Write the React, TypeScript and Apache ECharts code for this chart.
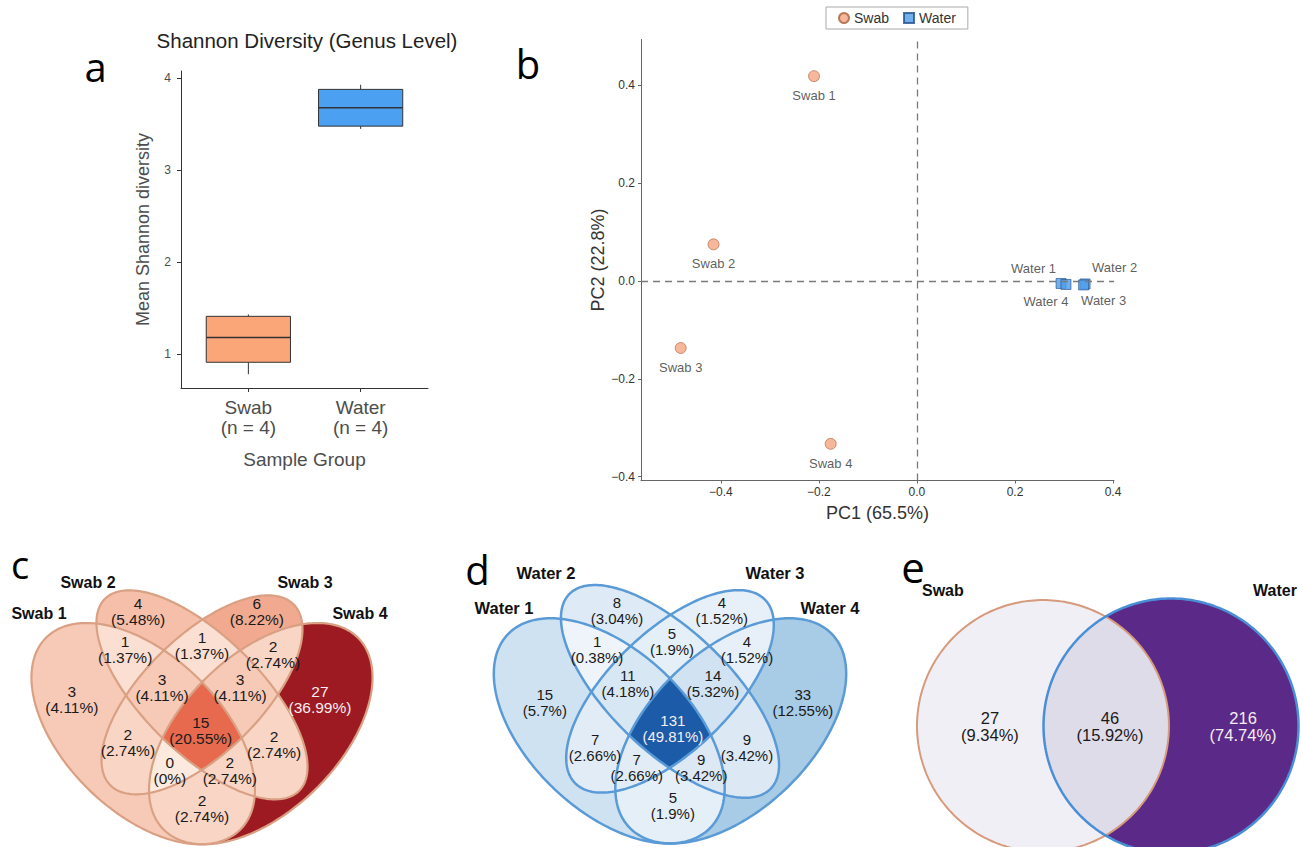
import React, { useEffect, useRef } from 'react';
import * as echarts from 'echarts';

const FONT = "'Liberation Sans', Arial, Helvetica, sans-serif";
const LETTER_FONT = "'Open Sans', 'Noto Sans', sans-serif";

// ---------- Panel a: Shannon diversity ----------
const BOX_GROUPS = ['Swab', 'Water'];
const BOX_N = [4, 4];
const BOX_MIN = [0.78, 3.45];
const BOX_Q1 = [0.91, 3.48];
const BOX_MEDIAN = [1.18, 3.68];
const BOX_Q3 = [1.41, 3.88];
const BOX_MAX = [1.43, 3.93];
const BOX_TICKS = [1, 2, 3, 4];
const BOX_COLORS = ['#FBA679', '#4BA0F2'];

// ---------- Panel b: PCA ----------
const SWAB_NAMES = ['Swab 1', 'Swab 2', 'Swab 3', 'Swab 4'];
const SWAB_PC1 = [-0.21, -0.415, -0.482, -0.176];
const SWAB_PC2 = [0.419, 0.075, -0.137, -0.333];
const WATER_NAMES = ['Water 1', 'Water 2', 'Water 3', 'Water 4'];
const WATER_PC1 = [0.294, 0.343, 0.34, 0.304];
const WATER_PC2 = [-0.005, -0.006, -0.008, -0.007];
const PC_TICKS = [-0.4, -0.2, 0, 0.2, 0.4];

// ---------- Panels c, d: 4-set Venn ----------
const VENN4_REGIONS = ['1', '2', '3', '4', '12', '23', '34', '123', '234', '1234', '13', '24', '134', '124', '14'];
const SWAB_SET_NAMES = ['Swab 1', 'Swab 2', 'Swab 3', 'Swab 4'];
const SWAB_COUNTS = [3, 4, 6, 27, 1, 1, 2, 3, 3, 15, 2, 2, 0, 2, 2];
const SWAB_PCTS = ['4.11%', '5.48%', '8.22%', '36.99%', '1.37%', '1.37%', '2.74%', '4.11%', '4.11%', '20.55%', '2.74%', '2.74%', '0%', '2.74%', '2.74%'];
const WATER_SET_NAMES = ['Water 1', 'Water 2', 'Water 3', 'Water 4'];
const WATER_COUNTS = [15, 8, 4, 33, 1, 5, 4, 11, 14, 131, 7, 9, 7, 9, 5];
const WATER_PCTS = ['5.7%', '3.04%', '1.52%', '12.55%', '0.38%', '1.9%', '1.52%', '4.18%', '5.32%', '49.81%', '2.66%', '3.42%', '2.66%', '3.42%', '1.9%'];

// ---------- Panel e: 2-set Venn ----------
const VENN2_REGIONS = ['1', '12', '2'];
const GROUP_SET_NAMES = ['Swab', 'Water'];
const GROUP_COUNTS = [27, 46, 216];
const GROUP_PCTS = ['9.34%', '15.92%', '74.74%'];

// ---------- Geometry (layout, not data) ----------
// [cx, cy, a, b, rotationDeg] in the unit space of each Venn grid
const ELLIPSES4 = [
  [0.35, 0.47, 0.35, 0.2, 135],
  [0.5, 0.57, 0.35, 0.15, 135],
  [0.5, 0.57, 0.33, 0.15, 45],
  [0.65, 0.47, 0.35, 0.2, 45],
];
const CIRCLES2 = [
  [-0.5, 0, 0.984, 0.984, 0],
  [0.5, 0, 0.996, 0.996, 0],
];
const LABEL_POS_C = [
  [0.168, 0.557], [0.337, 0.786], [0.64, 0.786], [0.801, 0.557],
  [0.304, 0.686], [0.5, 0.698], [0.681, 0.675],
  [0.398, 0.588], [0.597, 0.588], [0.497, 0.479],
  [0.311, 0.446], [0.684, 0.443], [0.418, 0.376], [0.571, 0.376], [0.5, 0.278],
];
const LABEL_POS_D = [
  [0.191, 0.543], [0.369, 0.776], [0.628, 0.776], [0.828, 0.543],
  [0.32, 0.677], [0.505, 0.697], [0.69, 0.675],
  [0.396, 0.591], [0.606, 0.591], [0.507, 0.477],
  [0.315, 0.427], [0.69, 0.427], [0.418, 0.378], [0.577, 0.378], [0.507, 0.28],
];
const LABEL_POS_E = [[-0.914, 0], [0.023, 0], [1.063, 0]];

type Pt = [number, number];

function ellipsePoints(e: number[], n = 220): Pt[] {
  const [cx, cy, a, b, rotDeg] = e;
  const th = (rotDeg * Math.PI) / 180;
  const c = Math.cos(th);
  const s = Math.sin(th);
  const pts: Pt[] = [];
  for (let k = 0; k < n; k++) {
    const t = (2 * Math.PI * k) / n;
    const x = a * Math.cos(t);
    const y = b * Math.sin(t);
    pts.push([cx + x * c - y * s, cy + x * s + y * c]);
  }
  return pts;
}

function clipConvex(subject: Pt[], clipPoly: Pt[]): Pt[] {
  let output = subject;
  for (let i = 0; i < clipPoly.length; i++) {
    const a = clipPoly[i];
    const b = clipPoly[(i + 1) % clipPoly.length];
    const input = output;
    output = [];
    if (!input.length) break;
    const inside = (p: Pt) => (b[0] - a[0]) * (p[1] - a[1]) - (b[1] - a[1]) * (p[0] - a[0]) >= 0;
    const inter = (p: Pt, q: Pt): Pt => {
      const A1 = q[1] - p[1], B1 = p[0] - q[0], C1 = A1 * p[0] + B1 * p[1];
      const A2 = b[1] - a[1], B2 = a[0] - b[0], C2 = A2 * a[0] + B2 * a[1];
      const det = A1 * B2 - A2 * B1;
      if (Math.abs(det) < 1e-12) return q;
      return [(B2 * C1 - B1 * C2) / det, (A1 * C2 - A2 * C1) / det];
    };
    for (let j = 0; j < input.length; j++) {
      const cur = input[j];
      const prev = input[(j + input.length - 1) % input.length];
      const cin = inside(cur);
      const pin = inside(prev);
      if (cin) {
        if (!pin) output.push(inter(prev, cur));
        output.push(cur);
      } else if (pin) {
        output.push(inter(prev, cur));
      }
    }
  }
  return output;
}

function regionPolygon(code: string, shapes: number[][]): Pt[] {
  const idx = code.split('').map((ch) => Number(ch) - 1);
  const outlines = shapes.map((s) => ellipsePoints(s));
  let poly = outlines[idx[0]];
  for (let k = 1; k < idx.length; k++) poly = clipConvex(poly, outlines[idx[k]]);
  return poly;
}

function textStyle(text: string, size: number, fill: string, extra: any = {}) {
  const align = extra.align || 'center';
  return {
    text,
    fill,
    fontSize: size,
    fontFamily: extra.family || FONT,
    fontWeight: extra.weight || 'normal',
    align,
    textAlign: align,
    verticalAlign: 'middle',
    textVerticalAlign: 'middle',
    lineHeight: extra.lineHeight,
  };
}

function vennSeries(
  gi: number,
  regions: string[],
  counts: number[],
  pcts: string[],
  labelPos: number[][],
  shapes: number[][],
  strokes: string[],
  widths: number[],
  fontSize: number,
  lineHeight: number,
) {
  const polys = regions.map((r) => regionPolygon(r, shapes));
  const order = regions.map((_, i) => i).sort((a, b) => regions[a].length - regions[b].length || a - b);
  const maxCount = Math.max(...counts);
  const outlinePts = shapes.map((s) => ellipsePoints(s, 260));
  return [
    {
      type: 'custom',
      xAxisIndex: gi,
      yAxisIndex: gi,
      z: 2,
      silent: true,
      clip: false,
      data: order.map((i) => [labelPos[i][0], labelPos[i][1], counts[i], i]),
      renderItem: (params: any, api: any) => {
        const i = api.value(3);
        return {
          type: 'polygon',
          shape: { points: polys[i].map((p) => api.coord(p)) },
          style: { fill: api.visual('color'), stroke: 'none' },
        };
      },
    },
    {
      type: 'custom',
      xAxisIndex: gi,
      yAxisIndex: gi,
      z: 3,
      silent: true,
      clip: false,
      data: shapes.map((s) => [s[0], s[1]]),
      renderItem: (params: any, api: any) => ({
        type: 'polygon',
        shape: { points: outlinePts[params.dataIndex].map((p) => api.coord(p)) },
        style: { fill: 'none', stroke: strokes[params.dataIndex], lineWidth: widths[params.dataIndex] },
      }),
    },
    {
      type: 'custom',
      xAxisIndex: gi,
      yAxisIndex: gi,
      z: 4,
      silent: true,
      clip: false,
      data: regions.map((_, i) => [labelPos[i][0], labelPos[i][1], counts[i]]),
      renderItem: (params: any, api: any) => {
        const i = params.dataIndex;
        const p = api.coord([api.value(0), api.value(1)]);
        const light = counts[i] / maxCount > 0.6;
        return {
          type: 'text',
          x: p[0],
          y: p[1],
          style: textStyle(`${counts[i]}\n(${pcts[i]})`, fontSize, light ? '#f6eef2' : '#1a1a1a', { lineHeight }),
        };
      },
    },
  ];
}

function pcFmt(v: number) {
  const r = Math.round(v * 10) / 10;
  return (r < 0 ? '\u2212' : '') + Math.abs(r).toFixed(1);
}

const WATER_LABEL_LAYOUT = [
  { position: 'top', align: 'right', offset: [-5, -1], distance: 2 },
  { position: 'top', align: 'left', offset: [7, -3], distance: 2 },
  { position: 'bottom', align: 'center', offset: [20, 0], distance: 4 },
  { position: 'bottom', align: 'center', offset: [-20, 0], distance: 5 },
];

// grid frames for the Venn panels (kept inside the 1303x847 canvas)
const VENN_FRAMES = [
  { left: 6, top: 585, width: 392, height: 262, xMin: 0, xMax: 1, yMin: 0.178, yMax: 0.853 },
  { left: 467.5, top: 580, width: 405, height: 267, xMin: 0, xMax: 1, yMin: 0.176, yMax: 0.852 },
  { left: 890, top: 590, width: 413, height: 257, xMin: -1.695, xMax: 1.531, yMin: -0.945, yMax: 1.0625 },
];

function gtext(x: number, y: number, text: string, size: number, extra: any = {}) {
  return {
    type: 'text',
    x,
    y,
    silent: true,
    style: textStyle(text, size, extra.fill || '#111', extra),
  };
}

function buildOption(): any {
  const series: any[] = [
    {
      type: 'custom',
      xAxisIndex: 0,
      yAxisIndex: 0,
      silent: true,
      data: BOX_GROUPS.map((_, i) => [i + 1, BOX_MIN[i], BOX_Q1[i], BOX_MEDIAN[i], BOX_Q3[i], BOX_MAX[i]]),
      encode: { x: 0, y: [1, 2, 3, 4, 5] },
      renderItem: (params: any, api: any) => {
        const x = api.value(0);
        const hw = 0.375;
        const pq1 = api.coord([x - hw, api.value(2)]);
        const pq3 = api.coord([x + hw, api.value(4)]);
        const pmin = api.coord([x, api.value(1)]);
        const ymed = api.coord([x, api.value(3)])[1];
        const ymax = api.coord([x, api.value(5)])[1];
        const xc = pmin[0];
        const st = { stroke: '#333', lineWidth: 1 };
        return {
          type: 'group',
          children: [
            { type: 'line', shape: { x1: xc, y1: ymax, x2: xc, y2: pq3[1] }, style: st },
            { type: 'line', shape: { x1: xc, y1: pq1[1], x2: xc, y2: pmin[1] }, style: st },
            {
              type: 'rect',
              shape: { x: pq1[0], y: pq3[1], width: pq3[0] - pq1[0], height: pq1[1] - pq3[1] },
              style: { fill: BOX_COLORS[params.dataIndex], stroke: '#333', lineWidth: 1 },
            },
            { type: 'line', shape: { x1: pq1[0], y1: ymed, x2: pq3[0], y2: ymed }, style: { stroke: '#333', lineWidth: 1.4 } },
          ],
        };
      },
    },
    {
      type: 'scatter',
      name: 'Swab',
      xAxisIndex: 1,
      yAxisIndex: 1,
      symbol: 'circle',
      symbolSize: 11,
      z: 3,
      itemStyle: { color: '#F4A582', borderColor: '#a8633f', borderWidth: 0.8 },
      label: { show: true, position: 'bottom', distance: 7, formatter: '{b}', fontSize: 13, color: '#333', fontFamily: FONT },
      data: SWAB_NAMES.map((n, i) => ({ name: n, value: [SWAB_PC1[i], SWAB_PC2[i]] })),
      markLine: {
        silent: true,
        symbol: ['none', 'none'],
        label: { show: false },
        lineStyle: { type: [7, 5], color: '#7a7a7a', width: 1.3 },
        data: [{ xAxis: 0 }, { yAxis: 0 }],
      },
    },
    {
      type: 'scatter',
      name: 'Water',
      xAxisIndex: 1,
      yAxisIndex: 1,
      symbol: 'rect',
      symbolSize: 10,
      z: 4,
      itemStyle: { color: '#4E9CE8', borderColor: '#1f4f8a', borderWidth: 0.8 },
      data: WATER_NAMES.map((n, i) => ({
        name: n,
        value: [WATER_PC1[i], WATER_PC2[i]],
        label: { show: true, formatter: '{b}', fontSize: 13, color: '#333', fontFamily: FONT, ...WATER_LABEL_LAYOUT[i] },
      })),
    },
    ...vennSeries(2, VENN4_REGIONS, SWAB_COUNTS, SWAB_PCTS, LABEL_POS_C, ELLIPSES4,
      ['#d9a083', '#d9a083', '#d9a083', '#d9a083'], [2.2, 2.2, 2.2, 2.2], 15.5, 16),
    ...vennSeries(3, VENN4_REGIONS, WATER_COUNTS, WATER_PCTS, LABEL_POS_D, ELLIPSES4,
      ['#5a9ad6', '#5a9ad6', '#5a9ad6', '#5a9ad6'], [2.5, 2.5, 2.5, 2.5], 15, 16),
    ...vennSeries(4, VENN2_REGIONS, GROUP_COUNTS, GROUP_PCTS, LABEL_POS_E, CIRCLES2,
      ['#d69a7c', '#4a8fd6'], [2, 2.5], 16.5, 17),
  ];

  const setLabels = [
    gtext(88, 582, SWAB_SET_NAMES[1], 16, { weight: 'bold' }),
    gtext(305, 582, SWAB_SET_NAMES[2], 16, { weight: 'bold' }),
    gtext(39, 613, SWAB_SET_NAMES[0], 16, { weight: 'bold' }),
    gtext(360, 613, SWAB_SET_NAMES[3], 16, { weight: 'bold' }),
    gtext(546, 573, WATER_SET_NAMES[1], 16.5, { weight: 'bold' }),
    gtext(775, 573, WATER_SET_NAMES[2], 16.5, { weight: 'bold' }),
    gtext(504, 608, WATER_SET_NAMES[0], 16.5, { weight: 'bold' }),
    gtext(830, 608, WATER_SET_NAMES[3], 16.5, { weight: 'bold' }),
    gtext(922, 590, GROUP_SET_NAMES[0], 16, { weight: 'bold', align: 'left' }),
    gtext(1253, 590, GROUP_SET_NAMES[1], 16, { weight: 'bold', align: 'left' }),
  ];

  const letters = [
    gtext(95.5, 66, 'a', 40, { family: LETTER_FONT, fill: '#000' }),
    gtext(528, 63.5, 'b', 40, { family: LETTER_FONT, fill: '#000' }),
    gtext(20, 564, 'c', 38, { family: LETTER_FONT, fill: '#000' }),
    gtext(477.5, 569.5, 'd', 40, { family: LETTER_FONT, fill: '#000' }),
    gtext(913, 566.5, 'e', 42, { family: LETTER_FONT, fill: '#000' }),
  ];

  const vennX = VENN_FRAMES.map((f, k) => ({ gridIndex: k + 2, type: 'value', min: f.xMin, max: f.xMax, show: false }));
  const vennY = VENN_FRAMES.map((f, k) => ({ gridIndex: k + 2, type: 'value', min: f.yMin, max: f.yMax, show: false }));

  return {
    animation: false,
    backgroundColor: '#ffffff',
    textStyle: { fontFamily: FONT },
    grid: [
      { left: 181, top: 71, width: 247, height: 317 },
      { left: 641, top: 39.5, width: 473, height: 441 },
      ...VENN_FRAMES.map((f) => ({ left: f.left, top: f.top, width: f.width, height: f.height })),
    ],
    xAxis: [
      {
        gridIndex: 0,
        type: 'value',
        min: 0.4,
        max: 2.6,
        splitLine: { show: false },
        axisLine: { show: true, onZero: false, lineStyle: { color: '#333', width: 1 } },
        axisTick: { show: true, customValues: [1, 2], length: 4, lineStyle: { color: '#333' } },
        axisLabel: {
          customValues: [1, 2],
          formatter: (v: number) => `${BOX_GROUPS[Math.round(v) - 1]}\n(n = ${BOX_N[Math.round(v) - 1]})`,
          fontSize: 19,
          lineHeight: 20,
          color: '#4d4d4d',
          margin: 9,
        },
        name: 'Sample Group',
        nameLocation: 'middle',
        nameGap: 62,
        nameTextStyle: { fontSize: 19, color: '#4d4d4d' },
      },
      {
        gridIndex: 1,
        type: 'value',
        min: -0.563,
        max: 0.402,
        splitLine: { show: false },
        axisLine: { show: true, onZero: false, lineStyle: { color: '#666', width: 1 } },
        axisTick: { show: true, customValues: PC_TICKS, length: 3, lineStyle: { color: '#666' } },
        axisLabel: { customValues: PC_TICKS, formatter: pcFmt, fontSize: 12, color: '#333', margin: 5 },
        name: 'PC1 (65.5%)',
        nameLocation: 'middle',
        nameGap: 23,
        nameTextStyle: { fontSize: 18, color: '#333' },
      },
      ...vennX,
    ],
    yAxis: [
      {
        gridIndex: 0,
        type: 'value',
        min: 0.63,
        max: 4.08,
        splitLine: { show: false },
        axisLine: { show: true, onZero: false, lineStyle: { color: '#333', width: 1 } },
        axisTick: { show: true, customValues: BOX_TICKS, length: 4, lineStyle: { color: '#333' } },
        axisLabel: { customValues: BOX_TICKS, fontSize: 12, color: '#4d4d4d', margin: 10 },
        name: 'Mean Shannon diversity',
        nameLocation: 'middle',
        nameGap: 29,
        nameRotate: 90,
        nameTextStyle: { fontSize: 18, color: '#4d4d4d' },
      },
      {
        gridIndex: 1,
        type: 'value',
        min: -0.408,
        max: 0.494,
        splitLine: { show: false },
        axisLine: { show: true, onZero: false, lineStyle: { color: '#666', width: 1 } },
        axisTick: { show: true, customValues: PC_TICKS, length: 3, lineStyle: { color: '#666' } },
        axisLabel: { customValues: PC_TICKS, formatter: pcFmt, fontSize: 12, color: '#333', margin: 6 },
        name: 'PC2 (22.8%)',
        nameLocation: 'middle',
        nameGap: 32,
        nameRotate: 90,
        nameTextStyle: { fontSize: 18, color: '#333' },
      },
      ...vennY,
    ],
    legend: {
      left: 826,
      top: 7,
      data: [
        { name: 'Swab', icon: 'circle' },
        { name: 'Water', icon: 'rect' },
      ],
      itemWidth: 10,
      itemHeight: 10,
      itemGap: 14,
      padding: [4, 12],
      borderColor: '#aaa',
      borderWidth: 1,
      textStyle: { fontSize: 14, color: '#333', fontFamily: FONT },
    },
    visualMap: [
      {
        type: 'continuous', show: false, seriesIndex: 3, dimension: 2, min: 0, max: 27,
        inRange: { color: ['#fdeadf', '#f0a286', '#ef7454', '#cb463a', '#9e1a22'] },
      },
      {
        type: 'continuous', show: false, seriesIndex: 6, dimension: 2, min: 0, max: 131,
        inRange: { color: ['#f0f5fb', '#a8cbe6', '#79a6d1', '#4b80bc', '#1c5ba7'] },
      },
      {
        type: 'continuous', show: false, seriesIndex: 9, dimension: 2, min: 20, max: 216,
        inRange: { color: ['#f8f6fa', '#c9c5dc', '#a08cbe', '#7d5aa5', '#5b2a89'] },
      },
    ],
    graphic: [
      gtext(307, 40, 'Shannon Diversity (Genus Level)', 20.5, { fill: '#222' }),
      ...letters,
      ...setLabels,
    ],
    series,
  };
}

export default function App() {
  const ref = useRef<HTMLDivElement>(null);
  useEffect(() => {
    if (!ref.current) return;
    const chart = echarts.init(ref.current, undefined, { renderer: 'svg' });
    chart.setOption(buildOption());
    return () => {
      chart.dispose();
    };
  }, []);
  return (
    <div
      ref={ref}
      style={{ position: 'fixed', left: 0, top: 0, width: 1303, height: 847, background: '#fff' }}
    />
  );
}
